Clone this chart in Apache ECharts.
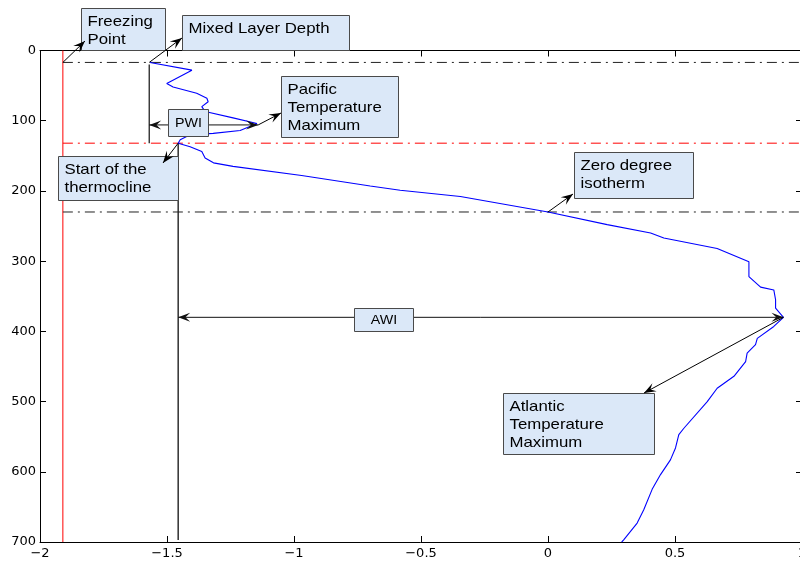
<!DOCTYPE html>
<html>
<head>
<meta charset="utf-8">
<script src="https://cdn.jsdelivr.net/npm/echarts@6/dist/echarts.min.js"></script>
<style>
  html, body { margin: 0; padding: 0; background: #fff; }
  #chart { width: 800px; height: 561px; }
</style>
</head>
<body>
<div id="chart"></div>
<script>
// Temperature profile: depth (m) and potential temperature (deg C)
const depths = [17, 28, 47, 52, 61, 68, 73, 80, 87, 96, 104, 106, 114, 118, 120, 127, 132,
  137, 144, 153, 160, 165, 178, 193, 199, 208, 230, 248, 260, 267, 282, 301, 322, 337, 341,
  355, 367, 380, 393, 410, 419, 431, 443, 464, 481, 500, 538, 547, 566, 583, 604, 625, 654,
  673, 697, 700];
const temperatures = [-1.567, -1.402, -1.501, -1.476, -1.383, -1.343, -1.338, -1.363, -1.350,
  -1.240, -1.146, -1.141, -1.212, -1.318, -1.409, -1.448, -1.456, -1.409, -1.363, -1.350,
  -1.317, -1.240, -0.970, -0.700, -0.582, -0.345, 0.000, 0.233, 0.404, 0.456, 0.666, 0.791,
  0.791, 0.837, 0.889, 0.896, 0.896, 0.927, 0.889, 0.824, 0.817, 0.784, 0.778, 0.732, 0.666,
  0.627, 0.535, 0.515, 0.502, 0.482, 0.443, 0.410, 0.377, 0.351, 0.298, 0.290];

// Axis ticks
const temperatureTicks = [-2, -1.5, -1, -0.5, 0, 0.5, 1];
const depthTicks = [0, 100, 200, 300, 400, 500, 600, 700];

// Characteristic levels of the profile
const freezingPoint = -1.91;
const mixedLayerDepth = 17;
const mixedLayerTemp = -1.57;
const pwiTopDepth = 20;
const pwiDepth = 106;
const pacificMaxTemp = -1.141;
const thermoclineDepth = 132;
const thermoclineTemp = -1.456;
const zeroIsothermDepth = 230;
const awiDepth = 380;
const awiBottomDepth = 697;
const atlanticMaxTemp = 0.927;

// Annotation texts
const freezingText = ['Freezing', 'Point'];
const mixedLayerText = ['Mixed Layer Depth'];
const pacificText = ['Pacific', 'Temperature', 'Maximum'];
const thermoclineText = ['Start of the', 'thermocline'];
const zeroText = ['Zero degree', 'isotherm'];
const atlanticText = ['Atlantic', 'Temperature', 'Maximum'];
const pwiText = 'PWI';
const awiText = 'AWI';

const tMin = temperatureTicks[0];
const tMax = temperatureTicks[temperatureTicks.length - 1];
const tStep = temperatureTicks[1] - temperatureTicks[0];
const dMin = depthTicks[0];
const dMax = depthTicks[depthTicks.length - 1];
const dStep = depthTicks[1] - depthTicks[0];

const chart = echarts.init(document.getElementById('chart'), null, { renderer: 'canvas' });

const labelFont = { fontFamily: 'DejaVu Sans', fontSize: 13, color: '#000' };
const dashDot = [10, 5, 2, 5];

function xAxisDef(pos, showLabel) {
  return {
    type: 'value', position: pos, min: tMin, max: tMax, interval: tStep,
    axisLine: { show: true, onZero: false, lineStyle: { color: '#000', width: 1 } },
    axisTick: { show: true, inside: true, length: 6, lineStyle: { color: '#000' } },
    axisLabel: Object.assign({
      show: showLabel, margin: 5, hideOverlap: false,
      formatter: v => (v < 0 ? '\u2212' : '') + String(Math.abs(v))
    }, labelFont),
    splitLine: { show: false }
  };
}
function yAxisDef(pos, showLabel) {
  return {
    type: 'value', position: pos, inverse: true, min: dMin, max: dMax, interval: dStep,
    axisLine: { show: true, onZero: false, lineStyle: { color: '#000', width: 1 } },
    axisTick: { show: true, inside: true, length: 6, lineStyle: { color: '#000' } },
    axisLabel: Object.assign({ show: showLabel, margin: 4 }, labelFont),
    splitLine: { show: false }
  };
}

function refLine(points, color, type, width) {
  return {
    type: 'line', data: points, symbol: 'none', silent: true, animation: false,
    lineStyle: { color: color, width: width || 1, type: type }, z: 1
  };
}

chart.setOption({
  animation: false,
  backgroundColor: '#fff',
  grid: {
    left: 40, width: 762, top: 50.5, height: 491.5,
    containLabel: false, outerBoundsMode: 'none'
  },
  xAxis: [xAxisDef('bottom', true), xAxisDef('top', false)],
  yAxis: [yAxisDef('left', true), yAxisDef('right', false)],
  series: [
    // freezing point
    refLine([[freezingPoint, dMin], [freezingPoint, dMax]], '#ff0000', 'solid', 1),
    // mixed layer depth, start of thermocline, zero degree isotherm
    refLine([[freezingPoint, mixedLayerDepth], [tMax, mixedLayerDepth]], '#222', dashDot, 1),
    refLine([[freezingPoint, thermoclineDepth], [tMax, thermoclineDepth]], '#ff0000', dashDot, 1),
    refLine([[freezingPoint, zeroIsothermDepth], [tMax, zeroIsothermDepth]], '#222', dashDot, 1),
    // brackets for the PWI and AWI layers
    refLine([[mixedLayerTemp, pwiTopDepth], [mixedLayerTemp, thermoclineDepth]], '#111', 'solid', 1.2),
    refLine([[thermoclineTemp, thermoclineDepth], [thermoclineTemp, awiBottomDepth]], '#222', 'solid', 1.4),
    {
      type: 'line', name: 'profile',
      data: depths.map((d, i) => [temperatures[i], d]),
      symbol: 'none', smooth: false, z: 3,
      lineStyle: { color: '#0000ff', width: 1.1 }
    }
  ]
});

// ---- annotations (boxes and arrows) ----
const px = (t, d) => chart.convertToPixel({ xAxisIndex: 0, yAxisIndex: 0 }, [t, d]);

const boxFill = '#dbe8f8';
const boxStroke = '#4a4a4a';
const textFont = '15px "Liberation Sans", Arial, sans-serif';
const smallFont = '13px "Liberation Sans", Arial, sans-serif';
const stretch = 1.12;

const graphics = [];

function arrowHead(tip, from, color, z) {
  const len = 12, wid = 9;
  const dx = tip[0] - from[0], dy = tip[1] - from[1];
  const d = Math.hypot(dx, dy);
  const ux = dx / d, uy = dy / d, nx = -uy, ny = ux;
  const bx = tip[0] - len * ux, by = tip[1] - len * uy;
  return {
    type: 'polygon', z: z, silent: true,
    shape: { points: [tip, [bx + nx * wid / 2, by + ny * wid / 2],
      [tip[0] - 0.6 * len * ux, tip[1] - 0.6 * len * uy],
      [bx - nx * wid / 2, by - ny * wid / 2]] },
    style: { fill: color }
  };
}

function arrow(from, to, twoHeads, color, z) {
  graphics.push({
    type: 'line', z: z, silent: true,
    shape: { x1: from[0], y1: from[1], x2: to[0], y2: to[1] },
    style: { stroke: color, lineWidth: 1 }
  });
  graphics.push(arrowHead(to, from, color, z));
  if (twoHeads) graphics.push(arrowHead(from, to, color, z));
}

function textBox(x, y, w, h, lines, z) {
  graphics.push({
    type: 'rect', z: z, silent: true,
    shape: { x: x + 0.5, y: y + 0.5, width: w, height: h },
    style: { fill: boxFill, stroke: boxStroke, lineWidth: 1 }
  });
  lines.forEach((s, i) => {
    graphics.push({
      type: 'text', z: z + 1, silent: true,
      x: x + 6.5, y: y + 13.5 + i * 18, scaleX: stretch,
      style: { text: s, font: textFont, fill: '#000', align: 'left', verticalAlign: 'middle' }
    });
  });
}

function tagBox(x, y, w, h, s, z) {
  graphics.push({
    type: 'rect', z: z, silent: true,
    shape: { x: x + 0.5, y: y + 0.5, width: w, height: h },
    style: { fill: boxFill, stroke: boxStroke, lineWidth: 1 }
  });
  graphics.push({
    type: 'text', z: z + 1, silent: true,
    x: x + w / 2 + 0.5, y: y + h / 2 + 1, scaleX: 1.1,
    style: { text: s, font: smallFont, fill: '#000', align: 'center', verticalAlign: 'middle' }
  });
}

// layer widths (drawn beneath their tags)
arrow(px(mixedLayerTemp, pwiDepth), px(pacificMaxTemp, pwiDepth), true, '#111', 100);
arrow(px(thermoclineTemp, awiDepth), px(atlanticMaxTemp, awiDepth), true, '#111', 100);
tagBox(168, 109, 40, 27, pwiText, 110);
tagBox(354, 308, 59, 23, awiText, 110);

// labelled features
textBox(81, 8, 84, 42, freezingText, 120);
textBox(182, 15, 167, 35, mixedLayerText, 120);
textBox(281, 76, 117, 61, pacificText, 120);
textBox(58, 156, 120, 44, thermoclineText, 120);
textBox(574, 152, 119, 46, zeroText, 120);
textBox(503, 393, 151, 61, atlanticText, 120);

arrow(px(freezingPoint, mixedLayerDepth), [85, 41], false, '#000', 130);
arrow(px(mixedLayerTemp, mixedLayerDepth), [182, 38], false, '#000', 130);
arrow(px(pacificMaxTemp, pwiDepth), [281, 113], false, '#000', 130);
arrow(px(thermoclineTemp, thermoclineDepth), [163, 163], false, '#000', 130);
arrow(px(0, zeroIsothermDepth), [573, 194], false, '#000', 130);
arrow(px(atlanticMaxTemp, awiDepth), [644, 393], false, '#000', 130);

chart.setOption({ graphic: { elements: graphics } });
</script>
</body>
</html>
